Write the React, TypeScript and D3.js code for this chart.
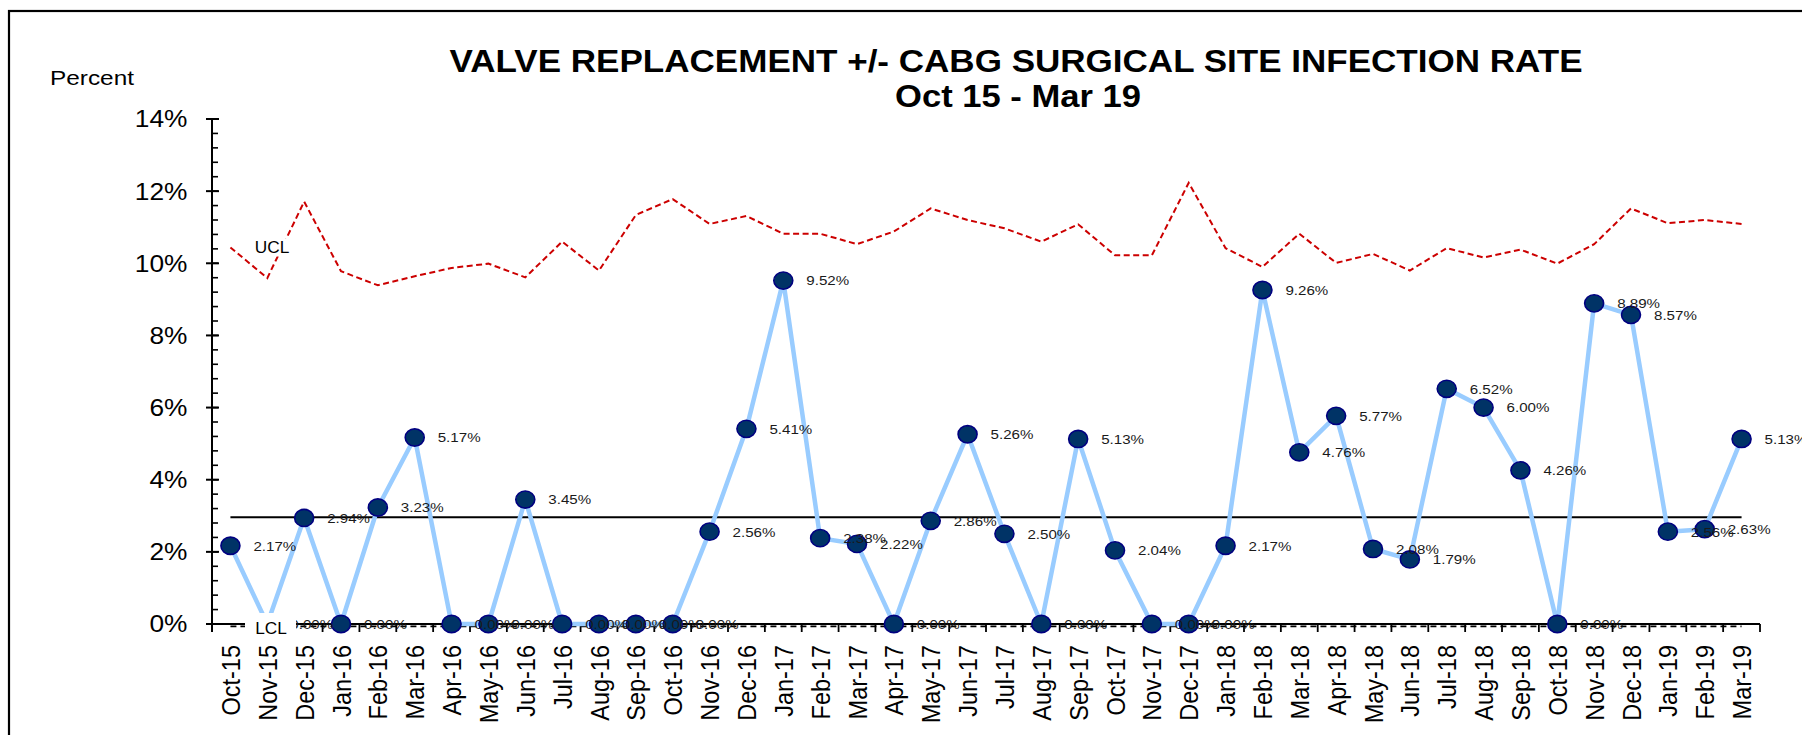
import { useEffect, useRef } from 'react'
import * as d3 from 'd3'

// Months on the category axis
const months = [
  'Oct-15', 'Nov-15', 'Dec-15',
  'Jan-16', 'Feb-16', 'Mar-16', 'Apr-16', 'May-16', 'Jun-16', 'Jul-16', 'Aug-16', 'Sep-16', 'Oct-16', 'Nov-16', 'Dec-16',
  'Jan-17', 'Feb-17', 'Mar-17', 'Apr-17', 'May-17', 'Jun-17', 'Jul-17', 'Aug-17', 'Sep-17', 'Oct-17', 'Nov-17', 'Dec-17',
  'Jan-18', 'Feb-18', 'Mar-18', 'Apr-18', 'May-18', 'Jun-18', 'Jul-18', 'Aug-18', 'Sep-18', 'Oct-18', 'Nov-18', 'Dec-18',
  'Jan-19', 'Feb-19', 'Mar-19'
]

// Infection rate (%)
const rates = [
  2.17, 0.0, 2.94,
  0.0, 3.23, 5.17, 0.0, 0.0, 3.45, 0.0, 0.0, 0.0, 0.0, 2.56, 5.41,
  9.52, 2.38, 2.22, 0.0, 2.86, 5.26, 2.5, 0.0, 5.13, 2.04, 0.0, 0.0,
  2.17, 9.26, 4.76, 5.77, 2.08, 1.79, 6.52, 6.0, 4.26, 0.0, 8.89, 8.57,
  2.56, 2.63, 5.13
]

// Upper control limit (%)
const ucl = [
  10.44, 9.59, 11.71,
  9.78, 9.39, 9.64, 9.87, 9.99, 9.61, 10.6, 9.8, 11.34, 11.78, 11.09, 11.31,
  10.82, 10.82, 10.53, 10.88, 11.52, 11.2, 10.97, 10.6, 11.08, 10.22, 10.22, 12.23,
  10.42, 9.9, 10.82, 10.01, 10.26, 9.8, 10.42, 10.16, 10.38, 9.99, 10.53, 11.52,
  11.11, 11.2, 11.09
]

const centerLine = 2.96
const lowerLimit = 0

const yMajor = [0, 2, 4, 6, 8, 10, 12, 14]
const yMinorStep = 0.4

export default function App() {
  const svgRef = useRef<SVGSVGElement>(null)

  useEffect(() => {
    if (!svgRef.current) return
    const svg = d3.select(svgRef.current)
    svg.selectAll('*').remove()

    const font = "'Liberation Sans', Arial, sans-serif"
    const sx = 1.12 // source chart is slightly stretched sideways

    const x = d3.scaleBand<string>().domain(months).range([212, 1760])
    const y = d3.scaleLinear().domain([0, 14]).range([624, 119])
    const cx = (m: string) => (x(m) as number) + x.bandwidth() / 2

    svg.append('rect').attr('width', 1802).attr('height', 735).attr('fill', '#fff')

    // Outer frame (runs off the right and bottom)
    svg
      .append('rect')
      .attr('x', 9)
      .attr('y', 11)
      .attr('width', 1900)
      .attr('height', 900)
      .attr('fill', 'none')
      .attr('stroke', '#000')
      .attr('stroke-width', 2.2)

    // Titles
    svg
      .append('text')
      .attr('x', 1016)
      .attr('y', 72)
      .attr('text-anchor', 'middle')
      .attr('textLength', 1133)
      .attr('lengthAdjust', 'spacingAndGlyphs')
      .style('font', `bold 31px ${font}`)
      .text('VALVE REPLACEMENT +/- CABG SURGICAL SITE INFECTION RATE')

    svg
      .append('text')
      .attr('x', 1018)
      .attr('y', 107)
      .attr('text-anchor', 'middle')
      .attr('textLength', 246)
      .attr('lengthAdjust', 'spacingAndGlyphs')
      .style('font', `bold 31px ${font}`)
      .text('Oct 15 - Mar 19')

    svg
      .append('text')
      .attr('x', 50)
      .attr('y', 85)
      .attr('textLength', 84)
      .attr('lengthAdjust', 'spacingAndGlyphs')
      .style('font', `21px ${font}`)
      .text('Percent')

    // Y axis
    const yAxis = svg.append('g').attr('stroke', '#000')
    yAxis
      .append('line')
      .attr('x1', 212)
      .attr('x2', 212)
      .attr('y1', y(14))
      .attr('y2', y(0) + 8)
      .attr('stroke-width', 2)
    d3.range(0, 14 + 1e-6, yMinorStep).forEach(v => {
      yAxis
        .append('line')
        .attr('x1', 212)
        .attr('x2', 218)
        .attr('y1', y(v))
        .attr('y2', y(v))
        .attr('stroke-width', 1.6)
    })
    yMajor.forEach(v => {
      yAxis
        .append('line')
        .attr('x1', 206)
        .attr('x2', 219)
        .attr('y1', y(v))
        .attr('y2', y(v))
        .attr('stroke-width', 2)
      svg
        .append('text')
        .attr('transform', `translate(187.5,${y(v)}) scale(${sx},1)`)
        .attr('text-anchor', 'end')
        .attr('dy', '0.36em')
        .style('font', `23.5px ${font}`)
        .text(`${v}%`)
    })

    // X axis
    svg
      .append('line')
      .attr('x1', 212)
      .attr('x2', 1760)
      .attr('y1', y(0))
      .attr('y2', y(0))
      .attr('stroke', '#000')
      .attr('stroke-width', 1.8)
    d3.range(months.length + 1).forEach(i => {
      const tx = 212 + i * x.step()
      svg
        .append('line')
        .attr('x1', tx)
        .attr('x2', tx)
        .attr('y1', y(0))
        .attr('y2', y(0) + 8)
        .attr('stroke', '#000')
        .attr('stroke-width', 1.8)
    })
    months.forEach(m => {
      svg
        .append('text')
        .attr('transform', `translate(${cx(m) + 9.5},645) scale(${sx},1) rotate(-90)`)
        .attr('text-anchor', 'end')
        .style('font', `23.5px ${font}`)
        .text(m)
    })

    // Control limits
    const uclLine = d3
      .line<number>()
      .x((_, i) => cx(months[i]))
      .y(d => y(d))
    svg
      .append('path')
      .datum(ucl)
      .attr('fill', 'none')
      .attr('stroke', '#CC0000')
      .attr('stroke-width', 2)
      .attr('stroke-dasharray', '6,3.5')
      .attr('d', uclLine)

    svg
      .append('line')
      .attr('x1', cx(months[0]))
      .attr('x2', cx(months[months.length - 1]))
      .attr('y1', y(centerLine))
      .attr('y2', y(centerLine))
      .attr('stroke', '#000')
      .attr('stroke-width', 1.8)

    svg
      .append('line')
      .attr('x1', cx(months[0]))
      .attr('x2', cx(months[months.length - 1]))
      .attr('y1', y(lowerLimit) + 2.3)
      .attr('y2', y(lowerLimit) + 2.3)
      .attr('stroke', '#000')
      .attr('stroke-width', 1.8)
      .attr('stroke-dasharray', '6,4')

    // Rate series
    const rateLine = d3
      .line<number>()
      .x((_, i) => cx(months[i]))
      .y(d => y(d))
    svg
      .append('path')
      .datum(rates)
      .attr('fill', 'none')
      .attr('stroke', '#99CCFF')
      .attr('stroke-width', 4.5)
      .attr('stroke-linejoin', 'round')
      .attr('d', rateLine)

    rates.forEach((v, i) => {
      svg
        .append('ellipse')
        .attr('cx', cx(months[i]))
        .attr('cy', y(v))
        .attr('rx', 9.5)
        .attr('ry', 8.6)
        .attr('fill', '#003366')
        .attr('stroke', '#000080')
        .attr('stroke-width', 1.6)
    })

    rates.forEach((v, i) => {
      svg
        .append('text')
        .attr('transform', `translate(${cx(months[i]) + 23},${y(v)}) scale(${sx},1)`)
        .attr('dy', '0.36em')
        .attr('fill', '#1a1a1a')
        .style('font', `13.5px ${font}`)
        .text(`${v.toFixed(2)}%`)
    })

    // UCL / LCL tags with white boxes
    const tags = [
      { label: 'UCL', box: [252.5, 238.5, 39.5, 18], tx: 272, ty: 253 },
      { label: 'LCL', box: [245, 613, 51, 28], tx: 271, ty: 634 }
    ]
    tags.forEach(t => {
      svg
        .append('rect')
        .attr('x', t.box[0])
        .attr('y', t.box[1])
        .attr('width', t.box[2])
        .attr('height', t.box[3])
        .attr('fill', '#fff')
      svg
        .append('text')
        .attr('transform', `translate(${t.tx},${t.ty}) scale(1.08,1)`)
        .attr('text-anchor', 'middle')
        .style('font', `16px ${font}`)
        .text(t.label)
    })
  }, [])

  return (
    <svg
      ref={svgRef}
      width={1802}
      height={735}
      style={{ position: 'absolute', left: 0, top: 0, display: 'block' }}
    />
  )
}
